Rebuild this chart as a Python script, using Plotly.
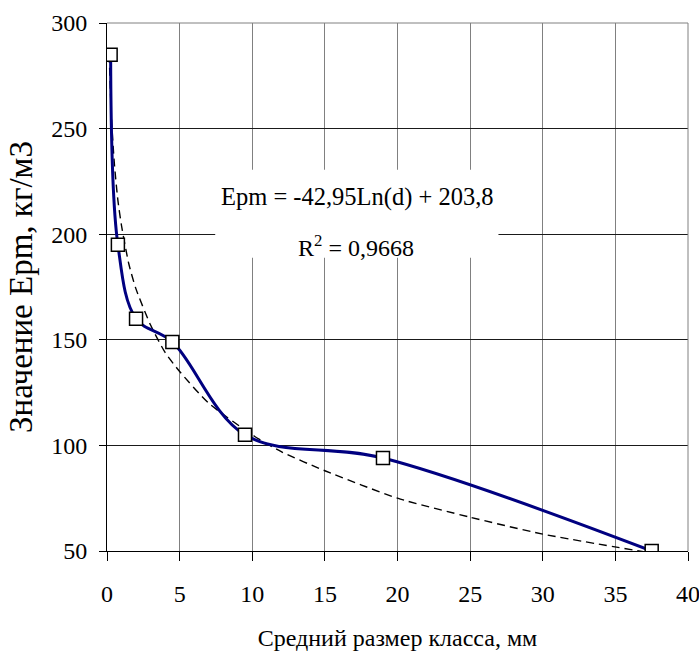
import plotly.graph_objects as go

# Measured points (mean class size, mm ; Epm, kg/m3)
size_mm = [0.25, 0.75, 2, 4.5, 9.5, 19, 37.5]
epm = [285, 195, 160, 149, 105, 94, 50]

# Logarithmic trend line (dashed curve)
trend_x = [0.15, 0.3, 0.5, 0.75, 1, 1.5, 2, 3, 4, 5, 7, 10, 12, 15, 20, 25, 30, 37.5]
trend_y = [285, 256, 234, 216, 204, 186, 174, 157, 144, 135, 120, 105, 97, 88, 75, 66, 58, 49]

x_ticks = [0, 5, 10, 15, 20, 25, 30, 35, 40]
y_ticks = [50, 100, 150, 200, 250, 300]

eq_line1 = "Epm = -42,95Ln(d) + 203,8"
eq_line2 = "R<sup>2</sup> = 0,9668"

FONT = "Liberation Serif"

fig = go.Figure()

fig.add_trace(go.Scatter(
    x=trend_x, y=trend_y, mode="lines",
    line=dict(color="black", width=1.4, dash="8px,5px", shape="spline", smoothing=0.6),
    hoverinfo="skip", showlegend=False,
))

fig.add_trace(go.Scatter(
    x=size_mm, y=epm, mode="lines+markers",
    line=dict(color="#000080", width=3, shape="spline", smoothing=1.0),
    marker=dict(symbol="square", size=13, color="white",
                line=dict(color="black", width=1.5)),
    showlegend=False,
))

# white box behind the equation
fig.add_shape(type="rect", xref="x", yref="y", x0=7.45, x1=26.95, y0=188.8, y1=230.5,
              fillcolor="white", line=dict(width=0), layer="between")

fig.add_annotation(x=17.25, y=217.8, xref="x", yref="y", text=eq_line1, showarrow=False,
                   font=dict(family=FONT, size=24.5, color="black"),
                   xanchor="center", yanchor="middle")
fig.add_annotation(x=17.17, y=194.5, xref="x", yref="y", text=eq_line2, showarrow=False,
                   font=dict(family=FONT, size=24, color="black"),
                   xanchor="center", yanchor="middle")

fig.update_layout(
    width=699, height=651,
    margin=dict(l=107, r=11, t=23, b=100, autoexpand=False),
    paper_bgcolor="white", plot_bgcolor="white",
    font=dict(family=FONT, color="black", size=24),
    xaxis=dict(
        range=[0, 40], tickvals=x_ticks, ticktext=[str(v) for v in x_ticks],
        automargin=False, ticklabeloverflow="allow",
        showgrid=True, gridcolor="#808080", gridwidth=1,
        showline=True, linecolor="black", linewidth=1,
        ticks="outside", ticklen=9, tickcolor="black", tickwidth=1,
        ticklabelstandoff=12,
        zeroline=False,
        tickfont=dict(family=FONT, size=24, color="black"),
        title=dict(text="Средний размер класса, мм", font=dict(family=FONT, size=24, color="black"), standoff=25),
    ),
    yaxis=dict(
        range=[50, 300], tickvals=y_ticks, ticktext=[str(v) for v in y_ticks],
        automargin=False,
        showgrid=True, gridcolor="#1a1a1a", gridwidth=1,
        showline=True, linecolor="black", linewidth=1,
        ticks="outside", ticklen=7, tickcolor="black", tickwidth=1,
        ticklabelstandoff=7,
        zeroline=False,
        tickfont=dict(family=FONT, size=24, color="black"),
        title=dict(text="Значение Ерm, кг/м3", font=dict(family=FONT, size=33, color="black"), standoff=8),
    ),
)

# gray top and right borders of the plot area
fig.add_shape(type="line", xref="paper", yref="paper", x0=0, x1=1, y0=1, y1=1,
              line=dict(color="#808080", width=1))
fig.add_shape(type="line", xref="paper", yref="paper", x0=1, x1=1, y0=0, y1=1,
              line=dict(color="#808080", width=1))

fig.write_html(
    "out.html",
    config={"displayModeBar": False},
    post_script="document.body.style.margin='0';document.body.style.overflow='hidden';",
)
